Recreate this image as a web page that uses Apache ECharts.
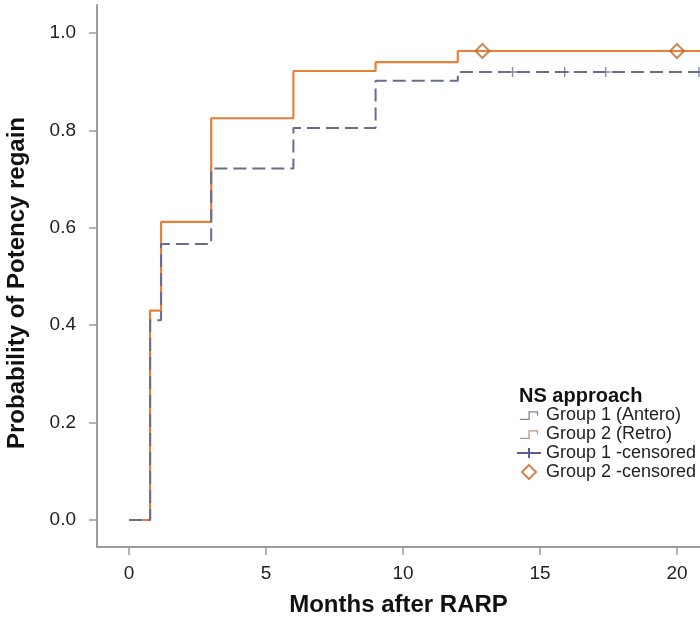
<!DOCTYPE html>
<html>
<head>
<meta charset="utf-8">
<script src="https://cdn.jsdelivr.net/npm/echarts@6/dist/echarts.min.js"></script>
<style>
	html, body { margin: 0; padding: 0; background: #fff; }
	#chart-container { width: 700px; height: 617px; }
</style>
</head>
<body>
<div id="chart-container"></div>
<script>
// Kaplan-Meier style step data
var g1Months = [0, 0.77, 1.17, 3, 6, 9, 12, 21];
var g1Prob = [0, 0.41, 0.567, 0.722, 0.805, 0.902, 0.92, 0.92];
var g2Months = [0, 0.77, 1.17, 3, 6, 9, 12, 21];
var g2Prob = [0, 0.43, 0.612, 0.825, 0.922, 0.94, 0.963, 0.963];

// censored observations
var g1CensMonths = [14.0, 15.9, 17.4, 20.8];
var g1CensProb = [0.92, 0.92, 0.92, 0.92];
var g2CensMonths = [12.9, 20.0];
var g2CensProb = [0.963, 0.963];

var xTicks = [0, 5, 10, 15, 20];
var yTicks = [0, 0.2, 0.4, 0.6, 0.8, 1.0];

var legendNames = ['Group 1 (Antero)', 'Group 2 (Retro)', 'Group 1 -censored', 'Group 2 -censored'];

function pairs(xs, ys) {
	return xs.map(function (x, i) { return [x, ys[i]]; });
}

var dom = document.getElementById('chart-container');
var myChart = echarts.init(dom, null, { renderer: 'canvas' });

// step glyph, padded top/bottom with tiny specks so it keeps a small size in the legend box
var stepIcon = 'path://M0,8L8,8L8,1L17,1L17,5L15.8,5L15.8,2.2L9.2,2.2L9.2,9.2L0,9.2Z M0,-2L0.02,-2L0,-1.98Z M0,11L0.02,11L0,10.98Z';
var crossIcon = 'path://M0,4L24,4L24,6L0,6Z M11,0L13,0L13,10L11,10Z';
var plusSymbol = 'path://M0,4.3L10,4.3L10,5.7L0,5.7Z M4.3,0L5.7,0L5.7,10L4.3,10Z';
var diamondSymbol = 'path://M5,0L10,5L5,10L0,5Z';

var axisGrey = '#9c9c9c';

var option = {
	animation: false,
	textStyle: {
		fontFamily: 'Liberation Sans, Arial, sans-serif',
		color: '#222'
	},
	title: {
		text: 'NS approach',
		left: 519,
		top: 386,
		padding: 0,
		textStyle: {
			fontSize: 20,
			fontWeight: 'bold',
			color: '#111'
		}
	},
	legend: {
		orient: 'vertical',
		left: 517,
		top: 406,
		padding: 0,
		itemWidth: 24,
		itemHeight: 14,
		itemGap: 1,
		textStyle: {
			fontSize: 18,
			color: '#222'
		},
		data: [
			{ name: legendNames[0], icon: stepIcon, itemStyle: { color: '#7f84a6', borderWidth: 0 } },
			{ name: legendNames[1], icon: stepIcon, itemStyle: { color: '#c09488', borderWidth: 0 } },
			{ name: legendNames[2], icon: crossIcon, itemStyle: { color: '#34347c', borderWidth: 0 } },
			{ name: legendNames[3] }
		]
	},
	grid: {
		left: 97,
		top: 5,
		right: 0,
		bottom: 70,
		outerBoundsMode: 'none'
	},
	xAxis: {
		type: 'value',
		min: -1.168,
		max: 20.84,
		name: 'Months after RARP',
		nameLocation: 'middle',
		nameGap: 46,
		nameTextStyle: {
			fontSize: 24,
			fontWeight: 'bold',
			color: '#111'
		},
		axisLine: {
			onZero: false,
			lineStyle: { color: axisGrey, width: 2 }
		},
		axisTick: {
			customValues: xTicks,
			length: 8,
			lineStyle: { color: axisGrey, width: 1.5 }
		},
		axisLabel: {
			customValues: xTicks,
			margin: 17,
			fontSize: 19,
			color: '#222'
		},
		splitLine: { show: false }
	},
	yAxis: {
		type: 'value',
		min: -0.0554,
		max: 1.0575,
		name: 'Probability of Potency regain',
		nameLocation: 'middle',
		nameGap: 68,
		nameTextStyle: {
			fontSize: 24,
			fontWeight: 'bold',
			color: '#111',
			padding: [0, 14, 0, 0]
		},
		axisLine: {
			show: true,
			onZero: false,
			lineStyle: { color: axisGrey, width: 2 }
		},
		axisTick: {
			show: true,
			customValues: yTicks,
			length: 8,
			lineStyle: { color: axisGrey, width: 1.5 }
		},
		axisLabel: {
			customValues: yTicks,
			margin: 21,
			fontSize: 19,
			color: '#222',
			formatter: function (v) { return v.toFixed(1); }
		},
		splitLine: { show: false }
	},
	series: [
		{
			name: legendNames[1],
			type: 'line',
			step: 'end',
			symbol: 'none',
			color: '#e8803a',
			lineStyle: { color: '#e8803a', width: 2.2 },
			data: pairs(g2Months, g2Prob),
			z: 2
		},
		{
			name: legendNames[0],
			type: 'line',
			step: 'end',
			symbol: 'none',
			color: '#6c7091',
			lineStyle: { color: '#686c8e', width: 2, type: [13, 6] },
			data: pairs(g1Months, g1Prob),
			z: 3
		},
		{
			name: legendNames[2],
			type: 'scatter',
			symbol: plusSymbol,
			symbolSize: 10,
			itemStyle: { color: '#6c7091' },
			data: pairs(g1CensMonths, g1CensProb),
			z: 4
		},
		{
			name: legendNames[3],
			type: 'scatter',
			symbol: diamondSymbol,
			symbolSize: 14,
			itemStyle: { color: 'rgba(255,255,255,0)', borderColor: '#c4682c', borderWidth: 2 },
			data: pairs(g2CensMonths, g2CensProb),
			z: 5
		}
	]
};

myChart.setOption(option);
window.addEventListener('resize', myChart.resize);
</script>
</body>
</html>
